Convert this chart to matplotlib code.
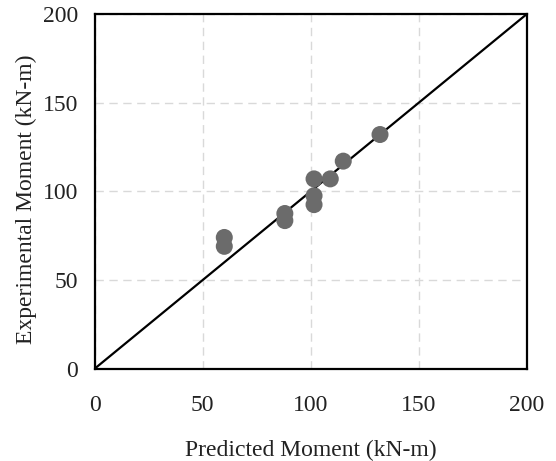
import numpy as np
import matplotlib
matplotlib.use('Agg')
import matplotlib.pyplot as plt

plt.rcParams['font.family'] = ['Liberation Serif', 'DejaVu Serif']

predicted = [60, 60, 88, 88, 101.5, 101.5, 101.5, 109, 115, 132]
experimental = [74, 69, 87.5, 83.5, 107, 97.5, 92.5, 107, 117, 132]
ticks = [0, 50, 100, 150, 200]

fig = plt.figure(figsize=(5.56, 4.61), dpi=100)
ax = fig.add_axes([0.170, 0.200, 0.778, 0.770])

ax.grid(True, color='#d9d9d9', linestyle=(0, (6, 4)), linewidth=1.0, zorder=0)
ax.plot([0, 200], [0, 200], color='black', linewidth=1.6, zorder=2)
ax.scatter(predicted, experimental, s=150, color='#6b6b6b', edgecolors='none', zorder=3)

ax.set_xlim(0, 200)
ax.set_ylim(0, 200)
ax.set_xticks(ticks)
ax.set_yticks(ticks)
ax.tick_params(axis='x', length=0, pad=19, labelsize=17, colors='#222222')
ax.tick_params(axis='y', length=0, pad=12, labelsize=17, colors='#222222')
for s in ax.spines.values():
    s.set_linewidth(1.6)
    s.set_color('black')

ax.set_xlabel('Predicted Moment (kN-m)', fontsize=17, labelpad=17, color='#222222')
ax.set_ylabel('Experimental Moment (kN-m)', fontsize=17, color='#222222')
ax.yaxis.set_label_coords(-0.134, 0.478)

fig.savefig('out.png', dpi=100)
